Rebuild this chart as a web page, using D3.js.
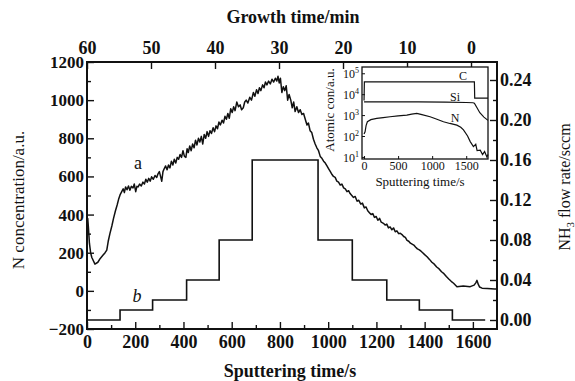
<!DOCTYPE html>
<html>
<head>
<meta charset="utf-8">
<script src="https://cdn.jsdelivr.net/npm/d3@7/dist/d3.min.js"></script>
<style>
  body { margin: 0; background: #fff; }
  text { font-family: "Liberation Serif", "DejaVu Serif", serif; fill: #111; }
</style>
</head>
<body>
<div id="chart"></div>
<script>
// curve a: N concentration vs sputtering time
const sputterTime = [0, 3, 6, 10, 15, 20, 33, 45, 55, 65, 75, 82, 88, 95, 103, 110, 118, 125, 131,
  137, 144, 150, 155, 160, 166, 172, 178, 184, 191, 196, 202, 207, 212, 218, 225, 232, 238, 244, 250,
  256, 262, 268, 275, 282, 289, 295, 300, 305, 310, 315, 320, 326, 332, 338, 344, 350, 356, 362, 368,
  374, 380, 386, 392, 398, 404, 410, 415, 420, 426, 432, 438, 444, 450, 456, 462, 468, 474, 480, 486,
  492, 498, 504, 510, 516, 523, 529, 535, 541, 547, 553, 560, 566, 572, 578, 584, 590, 596, 602, 608,
  614, 621, 628, 635, 641, 648, 654, 660, 667, 675, 682, 690, 696, 703, 709, 715, 721, 728, 734, 740,
  746, 753, 760, 767, 774, 781, 787, 792, 797, 802, 808, 814, 820, 826, 832, 838, 845, 851, 857, 863,
  870, 877, 884, 891, 898, 905, 912, 918, 925, 932, 939, 946, 953, 960, 967, 974, 981, 988, 995, 1002,
  1009, 1016, 1022, 1029, 1036, 1043, 1050, 1057, 1064, 1071, 1078, 1085, 1091, 1098, 1105, 1112, 1120, 1127, 1135, 1142,
  1150, 1157, 1164, 1171, 1178, 1185, 1192, 1199, 1206, 1213, 1220, 1229, 1236, 1243, 1250, 1257, 1264, 1271, 1278, 1285,
  1292, 1299, 1306, 1313, 1320, 1327, 1334, 1341, 1348, 1355, 1362, 1370, 1378, 1385, 1392, 1400, 1410, 1420, 1430, 1440,
  1450, 1460, 1470, 1480, 1490, 1500, 1510, 1520, 1534, 1560, 1589, 1605, 1612, 1617, 1622, 1628, 1638, 1660, 1690, 1700];
const nConc = [300, 380, 330, 250, 200, 175, 140, 150, 170, 185, 200, 214, 260, 300, 340, 380, 420, 450, 480,
  503, 520, 535, 515, 545, 530, 550, 528, 548, 540, 560, 520, 548, 545, 560, 550, 570, 560, 585, 570,
  590, 575, 598, 585, 605, 595, 615, 625, 600, 575, 625, 640, 655, 635, 660, 645, 680, 660, 690, 670,
  700, 690, 715, 700, 735, 705, 700, 745, 725, 760, 735, 770, 750, 790, 765, 800, 780, 810, 770, 820,
  800, 835, 810, 840, 825, 855, 835, 865, 850, 885, 870, 895, 880, 915, 900, 930, 905, 955, 935, 965,
  945, 990, 965, 975, 950, 960, 990, 1000, 985, 1015, 1000, 1040, 1020, 1055, 1035, 1065, 1050, 1080, 1065, 1095,
  1080, 1100, 1085, 1110, 1095, 1115, 1100, 1125, 1090, 1115, 1040, 1070, 1050, 1075, 1000, 1030, 1000, 960, 990, 940,
  965, 935, 950, 925, 930, 900, 870, 880, 840, 830, 795, 770, 750, 735, 705, 695, 680, 670, 655, 640,
  625, 610, 600, 595, 575, 570, 555, 560, 540, 535, 520, 525, 510, 500, 490, 495, 470, 475, 455, 460,
  435, 440, 420, 410, 400, 405, 385, 390, 370, 380, 360, 354, 345, 350, 330, 335, 320, 330, 310, 315,
  300, 302, 295, 285, 280, 265, 260, 250, 245, 240, 230, 220, 215, 208, 200, 190, 179, 165, 150, 140,
  125, 115, 100, 90, 75, 62, 50, 40, 22, 25, 22, 30, 42, 55, 35, 20, 14, 12, 10, 10];

// curve b: NH3 flow rate steps
const stepEdges = [0, 137, 272, 413, 548, 685, 958, 1100, 1243, 1378, 1515, 1651];
const flowRate = [0.00, 0.01, 0.02, 0.04, 0.08, 0.16, 0.08, 0.04, 0.02, 0.01, 0.00];

const nTicks = [-200, 0, 200, 400, 600, 800, 1000, 1200];
const flowTicks = [0.00, 0.04, 0.08, 0.12, 0.16, 0.20, 0.24];
const timeTicks = [0, 200, 400, 600, 800, 1000, 1200, 1400, 1600];
const growthTicks = [60, 50, 40, 30, 20, 10, 0];

// inset: SIMS depth profile
const insetCTime = [0, 5, 1620, 1625, 1820];
const insetC = [5000, 39000, 39000, 6500, 6500];
const insetSiTime = [0, 400, 800, 1200, 1500, 1600, 1620, 1650, 1700, 1760, 1820];
const insetSi = [4300, 4300, 4250, 4200, 4000, 3900, 3700, 2500, 1300, 800, 560];
const insetNTime = [0, 15, 30, 49, 100, 187, 280, 382, 500, 628, 700, 775, 850, 970, 1070, 1166, 1260, 1363, 1420, 1460,
  1520, 1559, 1606, 1640, 1660, 1706, 1740, 1770, 1804, 1820];
const insetN = [126, 158, 316, 479, 603, 692, 759, 832, 912, 1000, 1122, 1202, 1047, 832, 631, 479, 398, 331, 263, 195,
  100, 54, 31, 40, 20, 21, 13, 18, 10, 13];
const insetTimeTicks = [0, 500, 1000, 1500];
const insetLogTicks = [1, 2, 3, 4, 5];

const W = 575, H = 381;
const svg = d3.select('#chart').append('svg')
  .attr('width', W)
  .attr('height', H);

const box = { left: 87, right: 497, top: 62, bottom: 329 };

const x = d3.scaleLinear().domain([0, 1700]).range([box.left, box.right]);
const y = d3.scaleLinear().domain([-200, 1200]).range([box.bottom, box.top]);
const y2 = d3.scaleLinear().domain([-0.009, 0.258]).range([box.bottom, box.top]);
const xTop = d3.scaleLinear().domain([60, -4.06]).range([box.left, box.right]);

function styleAxis(g, size) {
  g.select('.domain').remove();
  g.selectAll('.tick line').attr('stroke', '#111').attr('stroke-width', 1.4);
  g.selectAll('.tick text').style('font-size', size).style('font-weight', 'bold');
}

// minor ticks
svg.append('g')
  .attr('transform', `translate(${box.left},0)`)
  .call(d3.axisLeft(y).tickValues(d3.range(-100, 1200, 200)).tickSize(-4).tickFormat(''))
  .call(g => styleAxis(g, '17px'));
svg.append('g')
  .attr('transform', `translate(0,${box.bottom})`)
  .call(d3.axisBottom(x).tickValues(d3.range(100, 1700, 200)).tickSize(-4).tickFormat(''))
  .call(g => styleAxis(g, '18px'));
svg.append('g')
  .attr('transform', `translate(${box.right},0)`)
  .call(d3.axisRight(y2).tickValues(d3.range(0.02, 0.25, 0.04)).tickSize(-4).tickFormat(''))
  .call(g => styleAxis(g, '18px'));

// major axes
svg.append('g')
  .attr('transform', `translate(${box.left},0)`)
  .call(d3.axisLeft(y).tickValues(nTicks).tickSize(-7).tickPadding(3).tickFormat(d => d < 0 ? '\u2212' + (-d) : d))
  .call(g => styleAxis(g, '17px'));
svg.append('g')
  .attr('transform', `translate(0,${box.bottom})`)
  .call(d3.axisBottom(x).tickValues(timeTicks).tickSize(-7).tickPadding(6).tickFormat(d3.format('d')))
  .call(g => styleAxis(g, '18px'));
svg.append('g')
  .attr('transform', `translate(${box.right},0)`)
  .call(d3.axisRight(y2).tickValues(flowTicks).tickSize(-7).tickPadding(3).tickFormat(d3.format('.2f')))
  .call(g => styleAxis(g, '18px'));
svg.append('g')
  .attr('transform', `translate(0,${box.top})`)
  .call(d3.axisTop(xTop).tickValues(growthTicks).tickSize(-7).tickPadding(8))
  .call(g => styleAxis(g, '18px'));

// frame
svg.append('rect')
  .attr('x', box.left).attr('y', box.top)
  .attr('width', box.right - box.left).attr('height', box.bottom - box.top)
  .attr('fill', 'none').attr('stroke', '#111').attr('stroke-width', 2);

// curve b
const stepPts = stepEdges.map((e, i) => [e, flowRate[Math.min(i, flowRate.length - 1)]]);
svg.append('path')
  .datum(stepPts)
  .attr('fill', 'none').attr('stroke', '#111').attr('stroke-width', 1.6)
  .attr('d', d3.line().x(d => x(d[0])).y(d => y2(d[1])).curve(d3.curveStepAfter));

// curve a
svg.append('path')
  .datum(sputterTime.map((t, i) => [t, nConc[i]]))
  .attr('fill', 'none').attr('stroke', '#111').attr('stroke-width', 1.5)
  .attr('stroke-linejoin', 'round')
  .attr('d', d3.line().x(d => x(d[0])).y(d => y(d[1])));

svg.append('text').attr('x', 138).attr('y', 169).attr('text-anchor', 'middle')
  .style('font-size', '18px').text('a');
svg.append('text').attr('x', 137).attr('y', 302).attr('text-anchor', 'middle')
  .style('font-size', '18px').style('font-style', 'italic').text('b');

// titles
svg.append('text').attr('x', 293).attr('y', 23).attr('text-anchor', 'middle')
  .style('font-size', '18px').style('font-weight', 'bold').text('Growth time/min');
svg.append('text').attr('x', 290).attr('y', 377).attr('text-anchor', 'middle')
  .style('font-size', '18px').style('font-weight', 'bold').text('Sputtering time/s');
svg.append('text').attr('transform', 'translate(24,200) rotate(-90)').attr('text-anchor', 'middle')
  .style('font-size', '17px').text('N concentration/a.u.');
const rl = svg.append('text').attr('transform', 'translate(570,187) rotate(-90)').attr('text-anchor', 'middle')
  .style('font-size', '16px');
rl.append('tspan').text('NH');
rl.append('tspan').attr('dy', 4).style('font-size', '11px').text('3');
rl.append('tspan').attr('dy', -4).text(' flow rate/sccm');

// inset
const ib = { left: 362, right: 488, top: 67, bottom: 159 };
const ix = d3.scaleLinear().domain([-30, 1820]).range([ib.left, ib.right]);
const iy = d3.scaleLog().domain([Math.pow(10, 0.9), Math.pow(10, 5.3)]).range([ib.bottom, ib.top]);

svg.append('rect')
  .attr('x', ib.left).attr('y', ib.top)
  .attr('width', ib.right - ib.left).attr('height', ib.bottom - ib.top)
  .attr('fill', '#fff').attr('stroke', '#111').attr('stroke-width', 1.3);

const ixAxis = svg.append('g')
  .attr('transform', `translate(0,${ib.bottom})`)
  .call(d3.axisBottom(ix).tickValues(insetTimeTicks).tickSize(-3).tickPadding(2).tickFormat(d3.format('d')));
ixAxis.select('.domain').remove();
ixAxis.selectAll('.tick line').attr('stroke', '#111');
ixAxis.selectAll('.tick text').style('font-size', '12px');

const iyAxis = svg.append('g')
  .attr('transform', `translate(${ib.left},0)`)
  .call(d3.axisLeft(iy).tickValues(insetLogTicks.map(p => Math.pow(10, p))).tickSize(-3).tickPadding(2).tickFormat(''));
iyAxis.select('.domain').remove();
iyAxis.selectAll('.tick line').attr('stroke', '#111');
iyAxis.selectAll('.tick').each(function (d, i) {
  const t = d3.select(this).append('text')
    .attr('x', -3).attr('dy', '0.35em').attr('text-anchor', 'end')
    .style('font-size', '12px');
  t.append('tspan').text('10');
  t.append('tspan').attr('dy', -5).style('font-size', '8px').text(insetLogTicks[i]);
});

const iline = d3.line().x(d => ix(d[0])).y(d => iy(d[1]));
[[insetCTime, insetC], [insetSiTime, insetSi], [insetNTime, insetN]].forEach(([tt, vv]) => {
  svg.append('path')
    .datum(tt.map((t, i) => [t, vv[i]]))
    .attr('fill', 'none').attr('stroke', '#111').attr('stroke-width', 1.2)
    .attr('d', iline);
});

svg.append('text').attr('x', 463).attr('y', 80).attr('text-anchor', 'middle').style('font-size', '12px').text('C');
svg.append('text').attr('x', 455).attr('y', 101).attr('text-anchor', 'middle').style('font-size', '12px').text('Si');
svg.append('text').attr('x', 455).attr('y', 122).attr('text-anchor', 'middle').style('font-size', '12px').text('N');
svg.append('text').attr('x', 420).attr('y', 186).attr('text-anchor', 'middle')
  .style('font-size', '13px').text('Sputtering time/s');
svg.append('text').attr('transform', 'translate(334,110) rotate(-90)').attr('text-anchor', 'middle')
  .style('font-size', '13px').text('Atomic con/a.u.');
</script>
</body>
</html>
